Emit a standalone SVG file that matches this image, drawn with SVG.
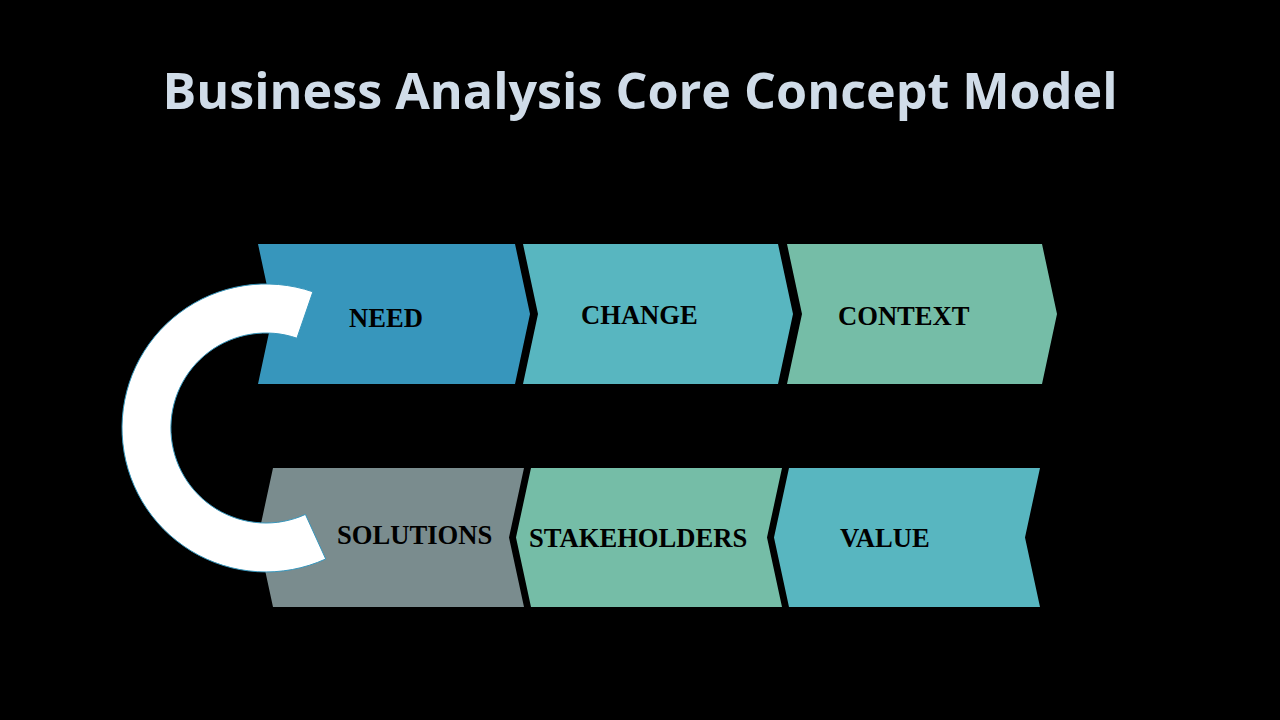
<svg xmlns="http://www.w3.org/2000/svg" width="1280" height="720" viewBox="0 0 1280 720">
<style>
.lbl{font-family:"Liberation Serif","Times New Roman",serif;font-weight:bold;font-size:26.6px;fill:#000}
.title{font-family:"Open Sans","Noto Sans",sans-serif;font-weight:bold;font-size:50px;fill:#D0DCE8}
</style>
<rect width="1280" height="720" fill="#000"/>
<text class="title" x="640" y="109" text-anchor="middle" textLength="955" lengthAdjust="spacingAndGlyphs">Business Analysis Core Concept Model</text>
<g id="need"><polygon points="258,244 515,244 530,314 515,384 258,384 273,314" fill="#3796BC"/><text class="lbl" x="349" y="327">NEED</text></g>
<g id="change"><polygon points="523,244 778,244 793,314 778,384 523,384 538,314" fill="#58B6C0"/><text class="lbl" x="581" y="324">CHANGE</text></g>
<g id="context"><polygon points="787,244 1042,244 1057,314 1042,384 787,384 802,314" fill="#75BDA7"/><text class="lbl" x="838" y="325">CONTEXT</text></g>
<g id="solutions"><polygon points="273,468 524,468 509,537.5 524,607 273,607 258,537.5" fill="#7A8C8E"/><text class="lbl" x="337" y="544">SOLUTIONS</text></g>
<g id="stakeholders"><polygon points="531,468 782,468 767,537.5 782,607 531,607 516,537.5" fill="#75BDA7"/><text class="lbl" x="529" y="547">STAKEHOLDERS</text></g>
<g id="value"><polygon points="789,468 1040,468 1025,537.5 1040,607 789,607 774,537.5" fill="#58B6C0"/><text class="lbl" x="840" y="547">VALUE</text></g>
<g id="connectors"><path d="M312.9,291.8 A144,144 0 1 0 325.7,559 L305.4,514.4 A95,95 0 1 1 296.9,338.2 Z" fill="#FFFFFF" stroke="#3796BC" stroke-width="1"/></g>
</svg>
